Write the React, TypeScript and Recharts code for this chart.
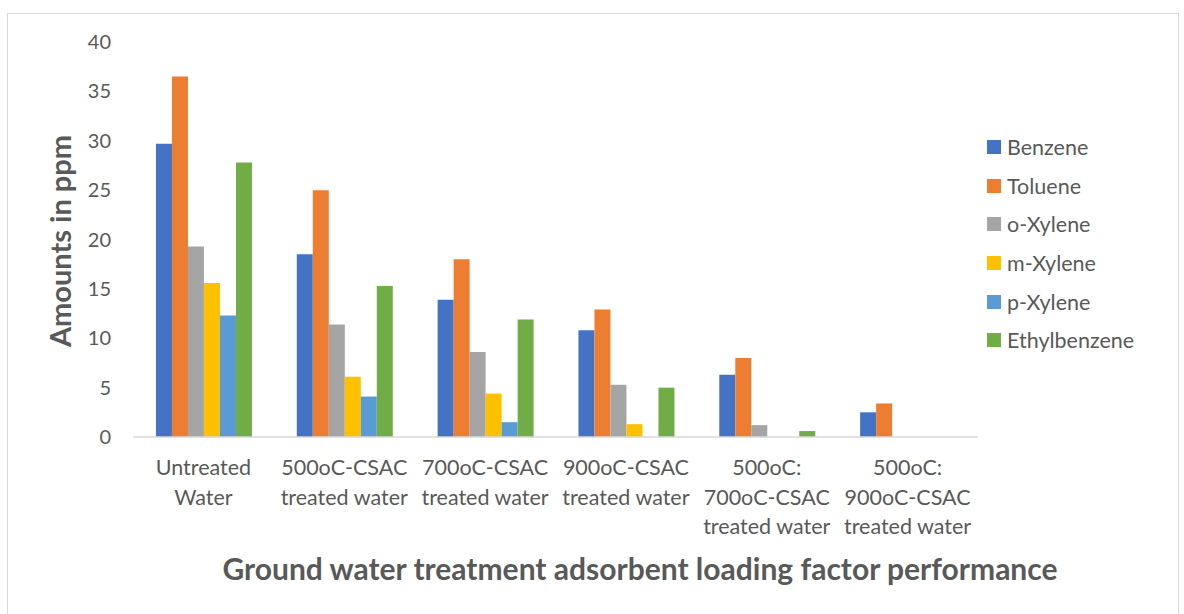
import { BarChart, Bar, XAxis, YAxis, Legend, Label } from 'recharts';

const categories = [
    'Untreated Water',
    '500oC-CSAC treated water',
    '700oC-CSAC treated water',
    '900oC-CSAC treated water',
    '500oC: 700oC-CSAC treated water',
    '500oC: 900oC-CSAC treated water',
];

// wrapped lines for each category label
const categoryLines = [
    ['Untreated', 'Water'],
    ['500oC-CSAC', 'treated water'],
    ['700oC-CSAC', 'treated water'],
    ['900oC-CSAC', 'treated water'],
    ['500oC:', '700oC-CSAC', 'treated water'],
    ['500oC:', '900oC-CSAC', 'treated water'],
];

const benzene = [29.7, 18.5, 13.9, 10.8, 6.3, 2.5];
const toluene = [36.5, 25, 18, 12.9, 8, 3.4];
const oXylene = [19.3, 11.4, 8.6, 5.3, 1.2, 0];
const mXylene = [15.6, 6.1, 4.4, 1.3, 0, 0];
const pXylene = [12.3, 4.1, 1.5, 0, 0, 0];
const ethylbenzene = [27.8, 15.3, 11.9, 5, 0.6, 0];

const yTicks = [0, 5, 10, 15, 20, 25, 30, 35, 40];

const seriesList = [
    { key: 'benzene', name: 'Benzene', color: '#4472C4', values: benzene },
    { key: 'toluene', name: 'Toluene', color: '#ED7D31', values: toluene },
    { key: 'oXylene', name: 'o-Xylene', color: '#A5A5A5', values: oXylene },
    { key: 'mXylene', name: 'm-Xylene', color: '#FFC000', values: mXylene },
    { key: 'pXylene', name: 'p-Xylene', color: '#5B9BD5', values: pXylene },
    { key: 'ethylbenzene', name: 'Ethylbenzene', color: '#70AD47', values: ethylbenzene },
];

const data = categories.map((name, i) => {
    const row: Record<string, string | number> = { name, idx: i };
    seriesList.forEach(s => { row[s.key] = s.values[i]; });
    return row;
});

const FONT = 'Lato, "Open Sans", sans-serif';
const TEXT = '#595959';

const CategoryTick = ({ x, y, payload }: { x: number, y: number, payload: { index: number } }) => {
    const lines = categoryLines[payload.index] ?? [];
    return (
        <text x={x} y={y + 30} textAnchor='middle' fill={TEXT} fontSize={21.5} fontFamily={FONT}>
            {lines.map((line, i) => (
                <tspan key={i} x={x} dy={i === 0 ? 0 : 29.5}>{line}</tspan>
            ))}
        </text>
    );
};

const LegendBox = () => (
    <div style={{ fontFamily: FONT, fontSize: 21.5, color: TEXT }}>
        {seriesList.map(s => (
            <div key={s.key} style={{ display: 'flex', alignItems: 'center', height: 38.6 }}>
                <span style={{ width: 14, height: 14, background: s.color, marginRight: 6, display: 'inline-block' }} />
                <span>{s.name}</span>
            </div>
        ))}
    </div>
);

const App = () => {
    return (
        <div style={{ position: 'fixed', left: 0, top: 0, width: 1184, height: 614, background: '#fff' }}>
            <div style={{ position: 'absolute', left: 7, top: 13, width: 1172, height: 610, border: '1px solid #d9d9d9', boxSizing: 'border-box' }} />
            <BarChart
                width={1184}
                height={614}
                data={data}
                margin={{ top: 42, right: 26, left: 73, bottom: 57 }}
                barCategoryGap='16.3%'
                barGap={0}>
                <XAxis
                    dataKey='name'
                    interval={0}
                    height={120}
                    tickLine={false}
                    stroke='#d9d9d9'
                    strokeWidth={1.5}
                    tick={CategoryTick}>
                    <Label
                        content={() => (
                            <text x={640} y={580} textAnchor='middle' fill={TEXT} fontSize={30} fontWeight='bold' fontFamily={FONT}>
                                Ground water treatment adsorbent loading factor performance
                            </text>
                        )} />
                </XAxis>
                <YAxis
                    width={60}
                    domain={[0, 40]}
                    ticks={yTicks}
                    axisLine={false}
                    tickLine={false}
                    tickMargin={16}
                    tick={{ fill: TEXT, fontSize: 20, fontFamily: FONT }}>
                    <Label
                        content={() => (
                            <text x={0} y={0} transform='translate(71 241) rotate(-90)' textAnchor='middle' fill={TEXT} fontSize={29} fontWeight='bold' fontFamily={FONT}>
                                Amounts in ppm
                            </text>
                        )} />
                </YAxis>
                <Legend
                    layout='vertical'
                    align='right'
                    verticalAlign='top'
                    content={LegendBox}
                    wrapperStyle={{ left: 987, top: 128, width: 180 }} />
                {seriesList.map(s => (
                    <Bar key={s.key} dataKey={s.key} name={s.name} fill={s.color} isAnimationActive={false} />
                ))}
            </BarChart>
        </div>
    );
};

export default App;
